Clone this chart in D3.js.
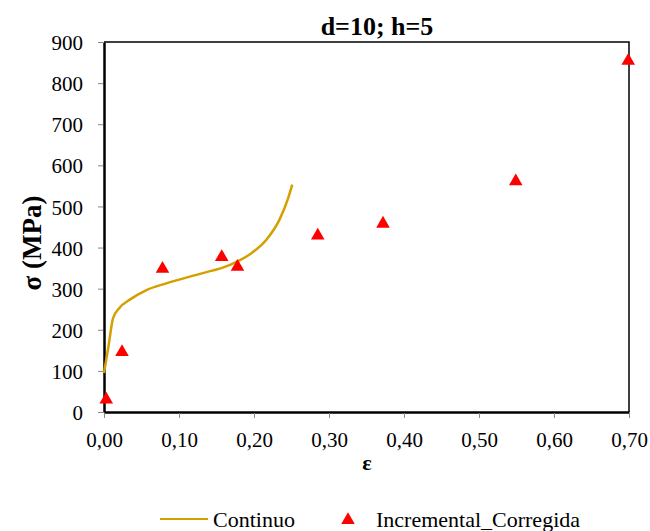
<!DOCTYPE html>
<html>
<head>
<meta charset="utf-8">
<script src="https://cdn.jsdelivr.net/npm/d3@7"></script>
<style>
  body { margin: 0; background: #fff; }
  svg text { font-family: "Liberation Serif", "Times New Roman", "Liberation Sans", Arial, sans-serif; }
</style>
</head>
<body>
<div id="chart"></div>
<script>
// Continuo curve (strain, stress)
const curve_eps = [0.000, 0.006, 0.012, 0.020, 0.035, 0.056, 0.083, 0.128, 0.168, 0.194, 0.2165, 0.234, 0.245, 0.251];
const curve_sig = [95, 160, 228, 252, 274, 296, 313, 336, 358, 383, 419, 468, 517, 553];

// Incremental_Corregida points
const inc_eps = [0.003, 0.024, 0.078, 0.157, 0.178, 0.285, 0.372, 0.549, 0.699];
const inc_sig = [30, 146, 348, 377, 353, 429, 458, 561, 854];

const x_ticks = [0, 0.1, 0.2, 0.3, 0.4, 0.5, 0.6, 0.7];
const y_ticks = [0, 100, 200, 300, 400, 500, 600, 700, 800, 900];

(function() {
    const width = 650, height = 531;
    const margins = {top: 42, right: 21, bottom: 119, left: 104};
    const w = width - margins.left - margins.right,
          h = height - margins.top - margins.bottom;
    const line_color = '#d4a000';

    const svg = d3.select('#chart').append('svg')
        .attr('width', width)
        .attr('height', height);

    const x = d3.scaleLinear().domain([0, 0.7]).range([0, w]);
    const y = d3.scaleLinear().domain([0, 900]).range([h, 0]);

    const g = svg.append('g')
        .attr('transform', 'translate(' + margins.left + ',' + margins.top + ')');

    // frame (top + right thin)
    g.append('path')
        .attr('d', 'M0,0H' + w + 'V' + h)
        .attr('fill', 'none')
        .attr('stroke', '#000')
        .attr('stroke-width', 1.5);

    const fmt = (d) => d.toFixed(2).replace('.', ',');

    const xaxis = g.append('g')
        .attr('transform', 'translate(0,' + h + ')')
        .call(d3.axisBottom(x).tickValues(x_ticks).tickFormat(fmt).tickSize(6).tickSizeOuter(0));
    const yaxis = g.append('g')
        .call(d3.axisLeft(y).tickValues(y_ticks).tickFormat(d3.format('d')).tickSize(6).tickSizeOuter(0));

    [xaxis, yaxis].forEach(function(ax) {
        ax.attr('font-family', null);
        ax.select('.domain').attr('stroke', '#000').attr('stroke-width', 2.5);
        ax.selectAll('.tick line').attr('stroke', '#888').attr('stroke-width', 1);
        ax.selectAll('.tick text')
            .attr('fill', '#000')
            .attr('font-size', 21);
    });
    xaxis.selectAll('.tick text').attr('y', 35).attr('dy', 0);
    yaxis.selectAll('.tick text').attr('x', -21).attr('dy', '0.36em');
    xaxis.selectAll('.tick line').attr('y1', 1);
    yaxis.selectAll('.tick line').attr('x1', -1);

    // continuous curve
    const curve = curve_eps.map((e, i) => ({x: e, y: curve_sig[i]}));
    const line = d3.line()
        .x((d) => x(d.x))
        .y((d) => y(d.y))
        .curve(d3.curveMonotoneX);

    g.append('path').datum(curve)
        .attr('fill', 'none')
        .attr('stroke', line_color)
        .attr('stroke-width', 2.5)
        .attr('d', line);

    // incremental points
    const tri = d3.symbol().type(d3.symbolTriangle).size(80);
    g.selectAll('path.pt')
        .data(inc_eps.map((e, i) => ({x: e, y: inc_sig[i]})))
        .enter().append('path')
        .attr('class', 'pt')
        .attr('transform', (d) => 'translate(' + x(d.x) + ',' + y(d.y) + ')')
        .attr('d', tri)
        .attr('fill', '#ff0000');

    // title
    svg.append('text')
        .attr('x', 377)
        .attr('y', 35)
        .attr('text-anchor', 'middle')
        .attr('font-size', 26)
        .attr('font-weight', 'bold')
        .text('d=10; h=5');

    // axis labels
    svg.append('text')
        .attr('x', 367)
        .attr('y', 470)
        .attr('text-anchor', 'middle')
        .attr('font-size', 22)
        .attr('font-weight', 'bold')
        .text('ε');

    svg.append('text')
        .attr('transform', 'translate(41,243) rotate(-90)')
        .attr('text-anchor', 'middle')
        .attr('font-size', 27)
        .attr('font-weight', 'bold')
        .text('σ (MPa)');

    // legend
    const leg = svg.append('g').attr('font-size', 22);
    leg.append('line')
        .attr('x1', 160).attr('x2', 208)
        .attr('y1', 519).attr('y2', 519)
        .attr('stroke', line_color)
        .attr('stroke-width', 2);
    leg.append('text').attr('x', 213).attr('y', 527).text('Continuo');
    leg.append('path')
        .attr('transform', 'translate(348,520)')
        .attr('d', tri)
        .attr('fill', '#ff0000');
    leg.append('text').attr('x', 376).attr('y', 527).text('Incremental_Corregida');
}());
</script>
</body>
</html>
